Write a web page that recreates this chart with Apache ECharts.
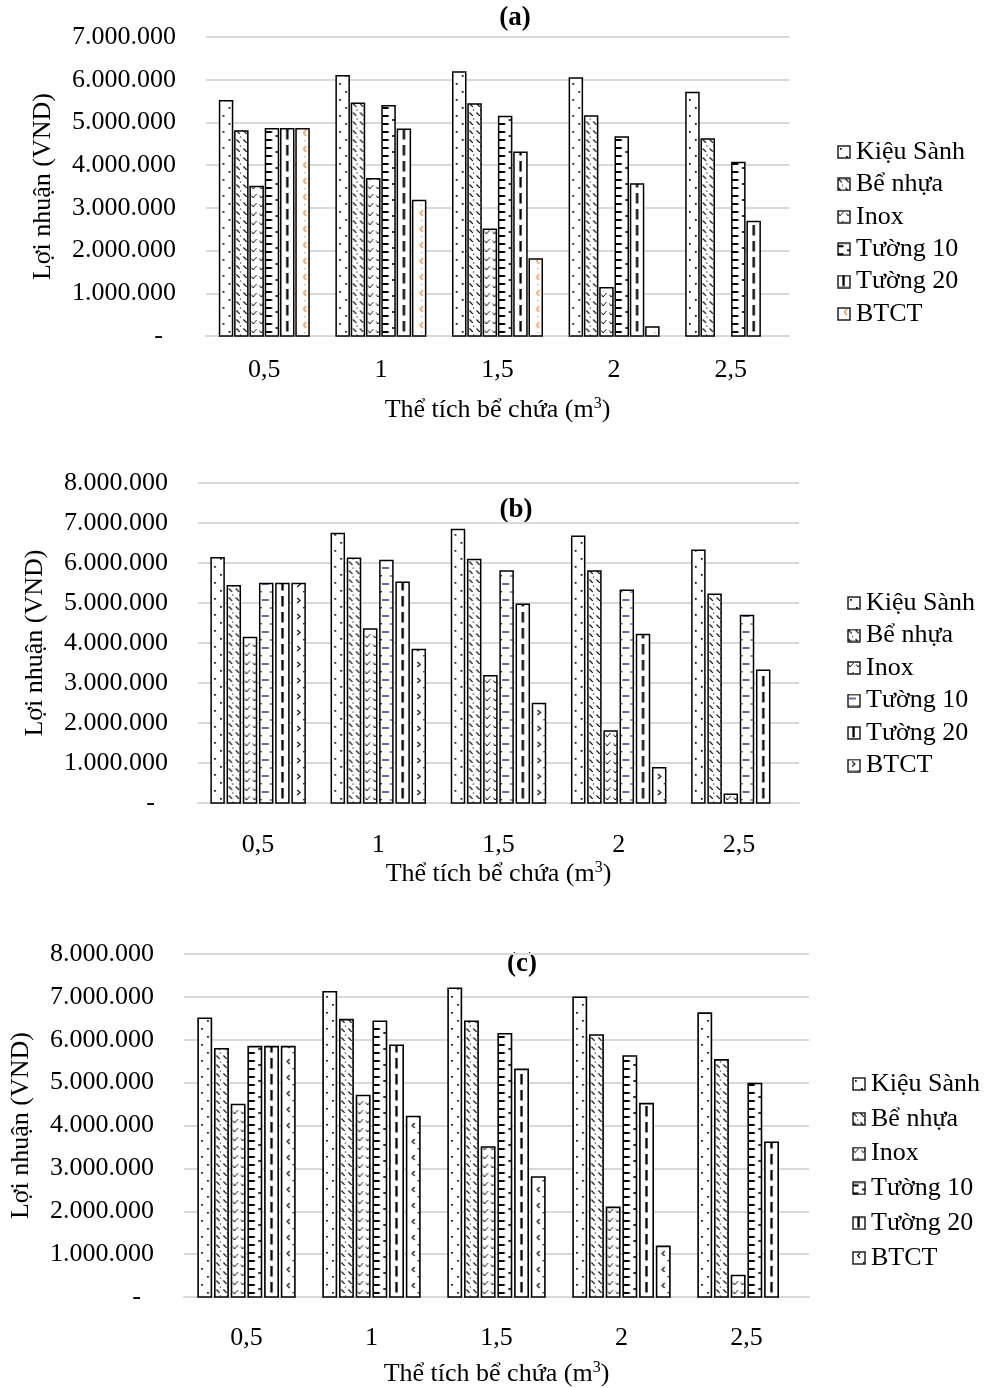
<!DOCTYPE html>
<html>
<head>
<meta charset="utf-8">
<script src="https://cdn.jsdelivr.net/npm/echarts@6/dist/echarts.min.js"></script>
<style>
  html, body { margin: 0; padding: 0; background: #fff; }
  #chart { width: 989px; height: 1388px; }
</style>
</head>
<body>
<div id="chart"></div>
<script>
// Tank volumes (m³) on the category axis
const categories = ['0,5', '1', '1,5', '2', '2,5'];
const seriesNames = ['Kiệu Sành', 'Bể nhựa', 'Inox', 'Tường 10', 'Tường 20', 'BTCT'];

// Profit (VND), panel (a)
const aKieuSanh = [5510000, 6090000, 6180000, 6040000, 5700000];
const aBeNhua   = [4800000, 5450000, 5430000, 5150000, 4610000];
const aInox     = [3500000, 3680000, 2500000, 1130000, null];
const aTuong10  = [4850000, 5390000, 5140000, 4660000, 4060000];
const aTuong20  = [4850000, 4840000, 4300000, 3560000, 2680000];
const aBTCT     = [4850000, 3170000, 1800000, 210000, null];

// Profit (VND), panel (b)
const bKieuSanh = [6130000, 6740000, 6840000, 6670000, 6320000];
const bBeNhua   = [5430000, 6120000, 6090000, 5800000, 5220000];
const bInox     = [4140000, 4350000, 3180000, 1800000, 220000];
const bTuong10  = [5490000, 6060000, 5800000, 5320000, 4690000];
const bTuong20  = [5490000, 5520000, 4970000, 4210000, 3320000];
const bBTCT     = [5490000, 3840000, 2490000, 880000, null];

// Profit (VND), panel (c)
const cKieuSanh = [6500000, 7120000, 7200000, 6990000, 6620000];
const cBeNhua   = [5790000, 6470000, 6430000, 6110000, 5530000];
const cInox     = [4490000, 4700000, 3500000, 2090000, 500000];
const cTuong10  = [5840000, 6430000, 6140000, 5620000, 4980000];
const cTuong20  = [5840000, 5870000, 5310000, 4510000, 3610000];
const cBTCT     = [5840000, 4210000, 2800000, 1180000, null];

const yMaxA = 7000000, yMaxB = 8000000, yMaxC = 8000000;
const yStep = 1000000;
const panelTitles = ['(a)', '(b)', '(c)'];
const yAxisTitle = 'Lợi nhuận (VND)';
const xAxisTitle = 'Thể tích bể chứa (m{sup|3})';

const FONT = '"Liberation Serif", "Times New Roman", serif';
const GRID_COLOR = '#d9d9d9';
const PURPLE = '#7565a8';
const ORANGE = '#f39447';

// ---- fill patterns (small canvas tiles) ----
function tile(w, h, draw) {
  const c = document.createElement('canvas');
  c.width = w; c.height = h;
  const g = c.getContext('2d');
  g.fillStyle = '#fff';
  g.fillRect(0, 0, w, h);
  draw(g);
  return c;
}
function poly(g, pts, lw, color) {
  g.strokeStyle = color; g.lineWidth = lw; g.lineCap = 'butt';
  g.beginPath();
  pts.forEach((p, i) => i ? g.lineTo(p[0], p[1]) : g.moveTo(p[0], p[1]));
  g.stroke();
}
function dot(g, x, y, s, color) { g.fillStyle = color || '#000'; g.fillRect(x, y, s, s); }

const tileDots = tile(13, 16, g => { dot(g, 3, 3, 1.7); dot(g, 9, 11, 1.7); });
const tileDiag = tile(7, 9, g => { poly(g, [[1.5, 1.5], [4.8, 4.8]], 1.1, '#000'); dot(g, 5, 7.5, 1.1); });
const tileChevron = tile(8, 9, g => { poly(g, [[1.5, 3.5], [3, 6], [6.5, 2]], 0.9, '#000'); });
const tileDashLeft = tile(13, 16, g => {
  poly(g, [[0, 4], [6.5, 4]], 2, '#000');
  poly(g, [[0, 12], [6.5, 12]], 2, '#000');
  poly(g, [[10, 8], [13, 8]], 1.6, '#000');
});
const tileDashPurple = tile(13, 16, g => {
  poly(g, [[2, 5], [9, 5]], 2, PURPLE);
  poly(g, [[10, 13], [13, 13]], 1.5, PURPLE);
  dot(g, 0.5, 12, 1.4);
});
const tileVDash = tile(13, 16, g => { g.fillStyle = '#000'; g.fillRect(5.4, 1, 2.3, 10.5); });
const tileLtOrange = tile(13, 16, g => { poly(g, [[10, 2], [7.5, 5], [10, 8]], 1.3, ORANGE); dot(g, 8, 12, 1.3, ORANGE); });
const tileGt = tile(13, 16, g => { poly(g, [[5, 3], [8, 5.5], [5, 8]], 1.1, '#000'); dot(g, 11, 12, 1.4); });
const tileLt = tile(13, 16, g => { poly(g, [[8, 2], [5.5, 4.5], [8, 7]], 1.1, '#000'); dot(g, 11, 11, 1.4); });

function legendIcon(t) {
  const c = document.createElement('canvas');
  c.width = 14; c.height = 14;
  const g = c.getContext('2d');
  g.fillStyle = g.createPattern(t, 'repeat');
  g.fillRect(1, 1, 12, 12);
  g.strokeStyle = '#000'; g.lineWidth = 1.3;
  g.strokeRect(1, 1, 12, 12);
  return 'image://' + c.toDataURL();
}

// ---- panel geometry ----
const panels = [
  { values: [aKieuSanh, aBeNhua, aInox, aTuong10, aTuong20, aBTCT],
    tiles: [tileDots, tileDiag, tileChevron, tileDashLeft, tileVDash, tileLtOrange],
    max: yMaxA, left: 206, right: 200, top: 37, height: 299, pitch: 15.3, bw: 13, lw: 1.5,
    xLabelMargin: 21, xNameGap: 60, yNameGap: 150,
    title: [515, 18], legend: { left: 837, top: 139, gap: 6.4 } },
  { values: [bKieuSanh, bBeNhua, bInox, bTuong10, bTuong20, bBTCT],
    tiles: [tileDots, tileDiag, tileChevron, tileDashPurple, tileVDash, tileGt],
    max: yMaxB, left: 198, right: 190, top: 483, height: 320, pitch: 16.2, bw: 13, lw: 1.5,
    xLabelMargin: 29, xNameGap: 57, yNameGap: 150,
    title: [516, 510], legend: { left: 847, top: 590, gap: 6.5 } },
  { values: [cKieuSanh, cBeNhua, cInox, cTuong10, cTuong20, cBTCT],
    tiles: [tileDots, tileDiag, tileChevron, tileDashLeft, tileVDash, tileLt],
    max: yMaxC, left: 184, right: 180, top: 954, height: 343, pitch: 16.7, bw: 13.3, lw: 1.6,
    xLabelMargin: 28, xNameGap: 63, yNameGap: 150,
    title: [522, 964], legend: { left: 852, top: 1071, gap: 8.8 } }
];

function fmtVND(v) {
  if (v === 0) return '-  ';
  return String(v).replace(/\B(?=(\d{3})+(?!\d))/g, '.');
}

const grids = [], xAxes = [], yAxes = [], series = [], legends = [], graphics = [];

panels.forEach((p, k) => {
  grids.push({ left: p.left, right: p.right, top: p.top, height: p.height });
  xAxes.push({
    type: 'category', gridIndex: k, data: categories,
    axisTick: { show: false },
    axisLine: { lineStyle: { color: GRID_COLOR, width: 2 } },
    axisLabel: { color: '#000', fontSize: 26, fontFamily: FONT, margin: p.xLabelMargin },
    name: xAxisTitle, nameLocation: 'middle', nameGap: p.xNameGap,
    nameTextStyle: { color: '#000', fontSize: 26, fontFamily: FONT,
      rich: { sup: { fontSize: 16, fontFamily: FONT, color: '#000', padding: [0, 0, 12, 0] } } }
  });
  yAxes.push({
    type: 'value', gridIndex: k, min: 0, max: p.max, interval: yStep,
    axisLine: { show: false }, axisTick: { show: false },
    splitLine: { lineStyle: { color: GRID_COLOR, width: 2 } },
    axisLabel: { color: '#000', fontSize: 26, fontFamily: FONT, margin: 30, formatter: fmtVND },
    name: yAxisTitle, nameLocation: 'middle', nameGap: p.yNameGap, nameRotate: 90,
    nameTextStyle: { color: '#000', fontSize: 26, fontFamily: FONT }
  });
  p.values.forEach((vals, s) => {
    const t = p.tiles[s];
    series.push({
      type: 'custom', name: seriesNames[s], xAxisIndex: k, yAxisIndex: k,
      data: vals.map((v, i) => [i, v]).filter(d => d[1] != null),
      encode: { x: 0, y: 1 },
      renderItem(params, api) {
        const ci = api.value(0), v = api.value(1);
        const top = api.coord([ci, v]);
        const base = api.coord([ci, 0]);
        const x = top[0] + (s - 2.5) * p.pitch - p.bw / 2;
        return {
          type: 'rect',
          shape: { x: x, y: top[1], width: p.bw, height: base[1] - top[1] },
          style: {
            fill: { type: 'pattern', image: t, repeat: 'repeat', x: x, y: base[1] },
            stroke: '#000', lineWidth: p.lw
          }
        };
      }
    });
  });
  legends.push({
    orient: 'vertical', left: p.legend.left, top: p.legend.top, padding: 0,
    itemWidth: 14, itemHeight: 14, itemGap: p.legend.gap, selectedMode: false,
    textStyle: { color: '#000', fontSize: 26, fontFamily: FONT },
    data: seriesNames.map((n, s) => ({ name: n, icon: legendIcon(p.tiles[s]) }))
  });
  graphics.push({
    type: 'text', x: p.title[0], y: p.title[1],
    style: { text: panelTitles[k], font: 'bold 27px ' + FONT, fill: '#000',
      textAlign: 'center', textVerticalAlign: 'middle' }
  });
});

const chart = echarts.init(document.getElementById('chart'), null, { renderer: 'canvas' });
chart.setOption({
  animation: false,
  backgroundColor: '#fff',
  textStyle: { fontFamily: FONT },
  grid: grids, xAxis: xAxes, yAxis: yAxes,
  legend: legends, series: series, graphic: graphics
});
</script>
</body>
</html>
